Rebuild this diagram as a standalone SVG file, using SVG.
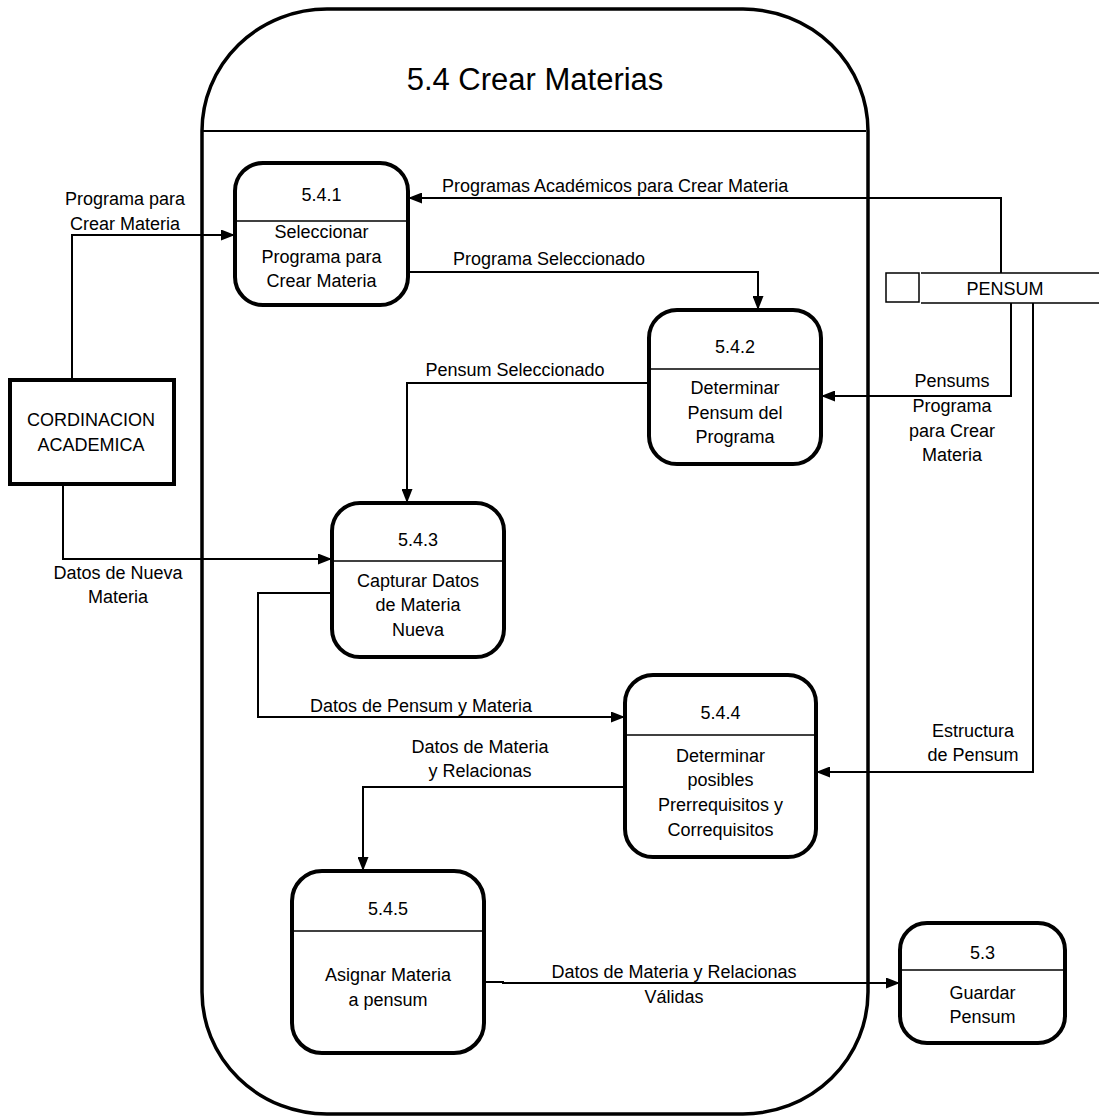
<svg xmlns="http://www.w3.org/2000/svg" width="1099" height="1116" viewBox="0 0 1099 1116">
<style>
text{font-family:"Liberation Sans",Arial,sans-serif;font-size:18px;fill:#000}
.c{text-anchor:middle}
.node{fill:#fff;stroke:#000;stroke-width:4}
.div{stroke:#000;stroke-width:1.5}
.flow{fill:none;stroke:#000;stroke-width:2}
.thin{fill:none;stroke:#000;stroke-width:1.5}
</style>
<defs>
<marker id="ah" markerUnits="userSpaceOnUse" markerWidth="15" markerHeight="11" refX="14" refY="5.5" orient="auto">
<path d="M0,0 L14,5.5 L0,11 z" fill="#000"/>
</marker>
</defs>
<rect width="1099" height="1116" fill="#fff"/>
<g id="container">
<rect x="202" y="9" width="666" height="1105" rx="125" ry="122" fill="none" stroke="#000" stroke-width="3.5"/>
<line x1="203" y1="131" x2="866" y2="131" stroke="#000" stroke-width="2"/>
<text x="535" y="90" class="c" style="font-size:31px">5.4 Crear Materias</text>
</g>
<g id="connectors">
<path class="flow" d="M72 380 V235 H235" marker-end="url(#ah)"/>
<path class="flow" d="M1001 273 V198 H408" marker-end="url(#ah)"/>
<path class="flow" d="M408 272 H758 V310" marker-end="url(#ah)"/>
<path class="flow" d="M1011 303 V396 H821" marker-end="url(#ah)"/>
<path class="flow" d="M649 383 H407 V503" marker-end="url(#ah)"/>
<path class="flow" d="M63 484 V559 H332" marker-end="url(#ah)"/>
<path class="flow" d="M332 593 H258 V717 H625" marker-end="url(#ah)"/>
<path class="flow" d="M1033 303 V772 H816" marker-end="url(#ah)"/>
<path class="flow" d="M625 787 H363 V871" marker-end="url(#ah)"/>
<path class="flow" d="M484 982 H503 V983 H900" marker-end="url(#ah)"/>
<text x="125" y="205" class="c">Programa para</text>
<text x="125" y="230" class="c">Crear Materia</text>
<text x="442" y="192">Programas Académicos para Crear Materia</text>
<text x="453" y="265">Programa Seleccionado</text>
<text x="952" y="387" class="c">Pensums</text>
<text x="952" y="412" class="c">Programa</text>
<text x="952" y="437" class="c">para Crear</text>
<text x="952" y="461" class="c">Materia</text>
<text x="515" y="376" class="c">Pensum Seleccionado</text>
<text x="118" y="579" class="c">Datos de Nueva</text>
<text x="118" y="603" class="c">Materia</text>
<text x="310" y="712">Datos de Pensum y Materia</text>
<text x="973" y="737" class="c">Estructura</text>
<text x="973" y="761" class="c">de Pensum</text>
<text x="480" y="753" class="c">Datos de Materia</text>
<text x="480" y="777" class="c">y Relacionas</text>
<text x="674" y="978" class="c">Datos de Materia y Relacionas</text>
<text x="674" y="1003" class="c">Válidas</text>
</g>
<g id="pensum">
<rect x="886" y="273" width="33" height="29" class="thin"/>
<path class="thin" d="M921 273 H1099 M921 303 H1099"/>
<text x="1005" y="295" class="c">PENSUM</text>
</g>
<g id="cordinacion">
<rect x="10" y="380" width="164" height="104" fill="#fff" stroke="#000" stroke-width="4"/>
<text x="91" y="426" class="c">CORDINACION</text>
<text x="91" y="451" class="c">ACADEMICA</text>
</g>
<g id="p541">
<rect x="235" y="163" width="173" height="142" rx="28" class="node"/>
<line x1="235" y1="221" x2="408" y2="221" class="div"/>
<text x="321.5" y="201" class="c">5.4.1</text>
<text x="321.5" y="238" class="c">Seleccionar</text>
<text x="321.5" y="263" class="c">Programa para</text>
<text x="321.5" y="287" class="c">Crear Materia</text>
</g>
<g id="p542">
<rect x="649" y="310" width="172" height="154" rx="28" class="node"/>
<line x1="649" y1="369" x2="821" y2="369" class="div"/>
<text x="735" y="353" class="c">5.4.2</text>
<text x="735" y="394" class="c">Determinar</text>
<text x="735" y="419" class="c">Pensum del</text>
<text x="735" y="443" class="c">Programa</text>
</g>
<g id="p543">
<rect x="332" y="503" width="172" height="154" rx="28" class="node"/>
<line x1="332" y1="561" x2="504" y2="561" class="div"/>
<text x="418" y="546" class="c">5.4.3</text>
<text x="418" y="587" class="c">Capturar Datos</text>
<text x="418" y="611" class="c">de Materia</text>
<text x="418" y="636" class="c">Nueva</text>
</g>
<g id="p544">
<rect x="625" y="675" width="191" height="182" rx="28" class="node"/>
<line x1="625" y1="735" x2="816" y2="735" class="div"/>
<text x="720.5" y="719" class="c">5.4.4</text>
<text x="720.5" y="762" class="c">Determinar</text>
<text x="720.5" y="786" class="c">posibles</text>
<text x="720.5" y="811" class="c">Prerrequisitos y</text>
<text x="720.5" y="836" class="c">Correquisitos</text>
</g>
<g id="p545">
<rect x="292" y="871" width="192" height="182" rx="30" class="node"/>
<line x1="292" y1="931" x2="484" y2="931" class="div"/>
<text x="388" y="915" class="c">5.4.5</text>
<text x="388" y="981" class="c">Asignar Materia</text>
<text x="388" y="1006" class="c">a pensum</text>
</g>
<g id="p53">
<rect x="900" y="923" width="165" height="120" rx="27" class="node"/>
<line x1="900" y1="970" x2="1065" y2="970" class="div"/>
<text x="982.5" y="959" class="c">5.3</text>
<text x="982.5" y="999" class="c">Guardar</text>
<text x="982.5" y="1023" class="c">Pensum</text>
</g>
</svg>
